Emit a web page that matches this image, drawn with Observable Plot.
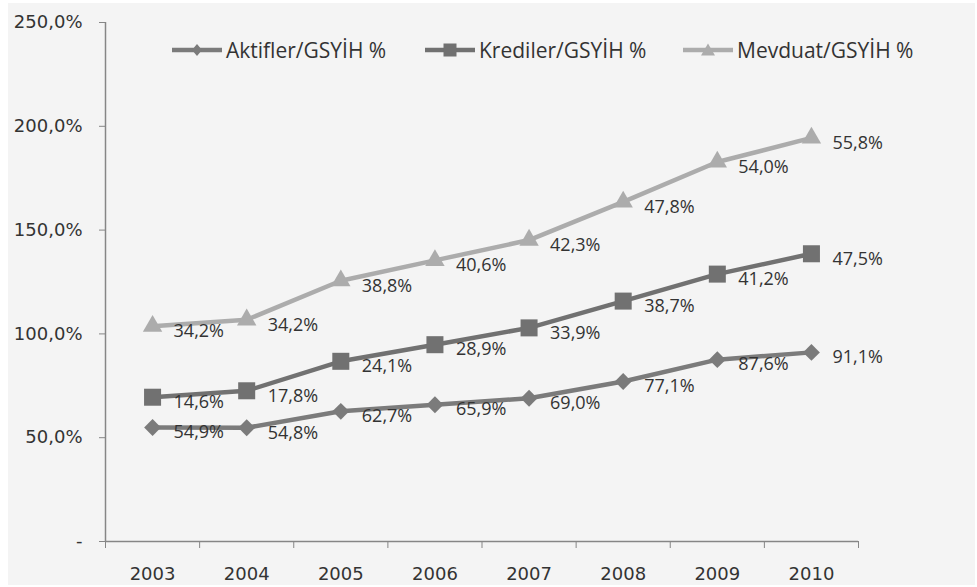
<!DOCTYPE html>
<html><head><meta charset="utf-8">
<script src="https://cdn.jsdelivr.net/npm/d3@7"></script>
<script src="https://cdn.jsdelivr.net/npm/@observablehq/plot@0.6"></script>
<style>
body{margin:0;background:#fff;}
#wrap{position:relative;width:977px;height:587px;
  background:linear-gradient(#f4f4f4,#f4f4f4) no-repeat;background-position:8px 3px;background-size:967px 582px;}
#wrap svg{display:block;}
.lg{position:absolute;top:36px;height:28px;display:flex;align-items:center;font-family:"Open Sans";font-size:21px;color:#333;white-space:nowrap;}
.lg svg{margin-right:4px;}
</style></head>
<body><div id="wrap"></div>
<script>
const years = [2003, 2004, 2005, 2006, 2007, 2008, 2009, 2010];
const seriesNames = ["Aktifler/GSYİH %", "Krediler/GSYİH %", "Mevduat/GSYİH %"];
const aktifler = [54.9, 54.8, 62.7, 65.9, 69.0, 77.1, 87.6, 91.1];
const krediler = [14.6, 17.8, 24.1, 28.9, 33.9, 38.7, 41.2, 47.5];
const mevduat  = [34.2, 34.2, 38.8, 40.6, 42.3, 47.8, 54.0, 55.8];
const yTicks = [0, 50, 100, 150, 200, 250];
const seriesColors = ["#7b7b7b", "#717171", "#acacac"];
const seriesSymbols = ["diamond2", "square", "triangle"];
const seriesR = [7.6, 9.6, 7.2];
const legendX = [172, 425, 683];

const allValues = [aktifler, krediler, mevduat];
const rows = [];
allValues.forEach((vals, si) => {
  vals.forEach((v, j) => {
    let top = 0;
    for (let k = 0; k <= si; k++) top += allValues[k][j];
    rows.push({series: seriesNames[si], year: years[j], value: v, top});
  });
});

const fmtPct = v => v.toFixed(1).replace(".", ",") + "%";
const fmtTick = v => v === 0 ? "-" : v.toFixed(1).replace(".", ",") + "%";
const boundaries = d3.range(years.length + 1).map(i => years[0] - 0.5 + i);
const axisColor = "#868686";

const marks = [
  Plot.axisY({ticks: yTicks, tickFormat: fmtTick, tickSize: 6, tickPadding: 17, stroke: axisColor, label: null, fontSize: 18}),
  Plot.axisX({ticks: boundaries, tickFormat: () => "", tickSize: 7, stroke: axisColor, label: null}),
  Plot.axisX({ticks: years, tickFormat: d => String(d), tickSize: 0, tickPadding: 26, label: null, fontSize: 18}),
  Plot.ruleX([boundaries[0]], {stroke: axisColor, strokeWidth: 1.5}),
  Plot.ruleY([0], {stroke: axisColor, strokeWidth: 1.5}),
  Plot.line(rows, {x: "year", y: "top", z: "series", stroke: "series", strokeWidth: 4.5, strokeLinejoin: "round", strokeLinecap: "round"})
];
seriesNames.forEach((name, si) => {
  marks.push(Plot.dot(rows.filter(d => d.series === name), {x: "year", y: "top", symbol: seriesSymbols[si], fill: seriesColors[si], stroke: "none", r: seriesR[si]}));
});
marks.push(Plot.text(rows, {x: "year", y: "top", text: d => fmtPct(d.value), dx: 21, dy: 5, textAnchor: "start", fontFamily: "Open Sans", fontSize: 18, fill: "#333"}));

const chart = Plot.plot({
  width: 977, height: 587,
  marginLeft: 105, marginRight: 119, marginTop: 22, marginBottom: 46,
  style: {background: "transparent", fontFamily: "DejaVu Sans", fontSize: "18px", color: "#333"},
  x: {type: "linear", domain: [boundaries[0], boundaries[boundaries.length - 1]]},
  y: {domain: [0, 250]},
  color: {domain: seriesNames, range: seriesColors},
  marks
});
const wrap = document.getElementById("wrap");
wrap.appendChild(chart);

// legend
const symPaths = {
  diamond2: "M25,8 L30,14 L25,20 L20,14 Z",
  square: "M18.5,7.5 h13 v13 h-13 Z",
  triangle: "M25,7.5 L32,19.5 L18,19.5 Z"
};
seriesNames.forEach((name, si) => {
  const item = document.createElement("div");
  item.className = "lg";
  item.style.left = legendX[si] + "px";
  item.innerHTML = `<svg width="50" height="28"><line x1="0" y1="14" x2="50" y2="14" stroke="${seriesColors[si]}" stroke-width="4.5"/><path d="${symPaths[seriesSymbols[si]]}" fill="${seriesColors[si]}"/></svg><span>${name}</span>`;
  wrap.appendChild(item);
});
</script>
</body></html>
